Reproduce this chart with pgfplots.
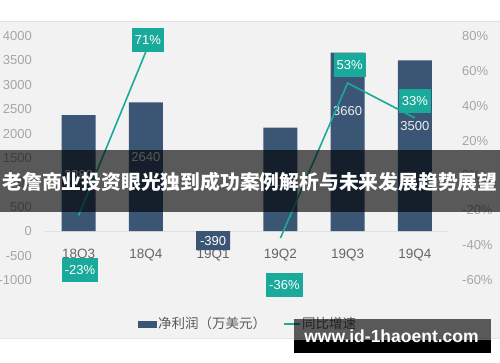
\documentclass[border=0pt]{standalone}
\usepackage{pgfplots}
\pgfplotsset{compat=1.18}
\usepackage{fontspec}
\setmainfont{Liberation Sans}
\newfontfamily\cjk{Noto Sans CJK SC}
\definecolor{bgc}{HTML}{F2F2F2}
\definecolor{barc}{HTML}{3B5675}
\definecolor{tealc}{HTML}{1AAA9B}
\definecolor{tickc}{HTML}{A6A6A6}
\definecolor{xtc}{HTML}{666666}
\definecolor{legc}{HTML}{595959}
\newcommand{\fs}[1]{\fontsize{#1}{#1}\selectfont}
\begin{document}
\begin{tikzpicture}
\path[use as bounding box] (0pt,0pt) rectangle (500pt,362pt);
\fill[white] (0pt,0pt) rectangle (500pt,362pt);
\fill[bgc] (0pt,24pt) rectangle (500pt,341pt);
\draw[gray!25, line width=0.8pt] (0pt,341pt) -- (500pt,341pt);
\draw[gray!20] (0pt,24pt) -- (500pt,24pt);

\begin{axis}[at={(45pt,82pt)}, anchor=south west, width=403.5pt, height=244pt, scale only axis,
  xmin=-0.5, xmax=5.5, ymin=-1000, ymax=4000,
  axis line style={draw=none}, major tick length=0pt,
  xtick={0,1,2,3,4,5}, xticklabels={18Q3,18Q4,19Q1,19Q2,19Q3,19Q4},
  xticklabel style={anchor=center, inner sep=0pt, yshift=25pt, text=xtc, font=\fs{13.5}},
  ytick={-1000,-500,0,500,1000,1500,2000,2500,3000,3500,4000},
  yticklabels={-1000,-500,0,500,1000,1500,2000,2500,3000,3500,4000},
  yticklabel style={anchor=east, inner sep=0pt, xshift=-13pt, text=tickc, font=\fs{13}},
  extra y ticks={0}, extra y tick labels={}, extra y tick style={grid=major, major grid style={draw=black!12, line width=0.8pt}},
  clip=false]
\addplot[ybar, bar width=34pt, fill=barc, draw=none] coordinates {(0,2380) (1,2640) (2,-390) (3,2120) (4,3660) (5,3500)};
\node[text=white!90!barc, font=\fs{13}] at (axis cs:0,1157) {2380};
\node[text=white!90!barc, font=\fs{13}] at (axis cs:1,1524) {2640};
\node[text=white, font=\fs{13}] at (axis cs:2,-195) {-390};
\node[text=white!90!barc, font=\fs{13}] at (axis cs:3,1000) {2120};
\node[text=white!90!barc, font=\fs{13}] at (axis cs:4,2463) {3660};
\node[text=white!90!barc, font=\fs{13}] at (axis cs:5,2157) {3500};
\end{axis}

\begin{axis}[at={(45pt,82pt)}, anchor=south west, width=403.5pt, height=244pt, scale only axis,
  xmin=-0.5, xmax=5.5, ymin=-60, ymax=80,
  axis line style={draw=none}, major tick length=0pt,
  xtick=\empty, yticklabel pos=right,
  ytick={-60,-40,-20,0,20,40,60,80},
  yticklabels={-60\%,-40\%,-20\%,0\%,20\%,40\%,60\%,80\%},
  yticklabel style={anchor=west, inner sep=0pt, xshift=13.5pt, text=tickc, font=\fs{13}},
  clip=false,
  legend columns=2,
  legend style={draw=none, fill=none, at={(0.2305,-0.18)}, anchor=west, font=\cjk\fs{13.5}, text=legc, inner sep=0pt, nodes={inner sep=1.5pt}, /tikz/every even column/.append style={column sep=15pt}},
  legend cell align=left]
\addlegendimage{legend image code/.code={\fill[barc] (0pt,-3pt) rectangle (18pt,3pt);}}
\addlegendentry{净利润（万美元）}
\addplot[tealc, line width=1.6pt, legend image code/.code={\draw[tealc, line width=2pt] (0pt,0pt) -- (16pt,0pt);}] coordinates {(0,-23) (1,71)};
\addlegendentry{同比增速}
\addplot[tealc, line width=1.6pt, forget plot] coordinates {(3,-36) (4,53) (5,33)};
\node[fill=tealc, text=white, font=\fs{13}, inner xsep=3pt, inner ysep=0pt, minimum height=24pt] at (axis cs:1.03,77.7) {71\%};
\node[fill=tealc, text=white, font=\fs{13}, inner xsep=3pt, inner ysep=0pt, minimum height=24pt] at (axis cs:4.03,63.4) {53\%};
\node[fill=tealc, text=white, font=\fs{13}, inner xsep=3pt, inner ysep=0pt, minimum height=24pt] at (axis cs:5,42.9) {33\%};
\node[fill=tealc, text=white, font=\fs{13}, inner xsep=3pt, inner ysep=0pt, minimum height=24pt] at (axis cs:0.02,-54.3) {-23\%};
\node[fill=tealc, text=white, font=\fs{13}, inner xsep=3pt, inner ysep=0pt, minimum height=24pt] at (axis cs:3.06,-62.9) {-36\%};
\end{axis}

\fill[black, opacity=0.63] (0pt,150pt) rectangle (500pt,212pt);
\node[text=white, font=\cjk\bfseries\fs{19.8}, inner sep=0pt] at (250pt,180pt) {老詹商业投资眼光独到成功案例解析与未来发展趋势展望};
\fill[black] (294pt,9pt) rectangle (491pt,22pt);
\fill[black, opacity=0.63] (294pt,22pt) rectangle (491pt,43pt);
\node[anchor=base, text=white, font=\bfseries\fs{17.5}, inner sep=0pt] at (391.5pt,20pt) {www.id-1haoent.com};
\end{tikzpicture}
\end{document}
